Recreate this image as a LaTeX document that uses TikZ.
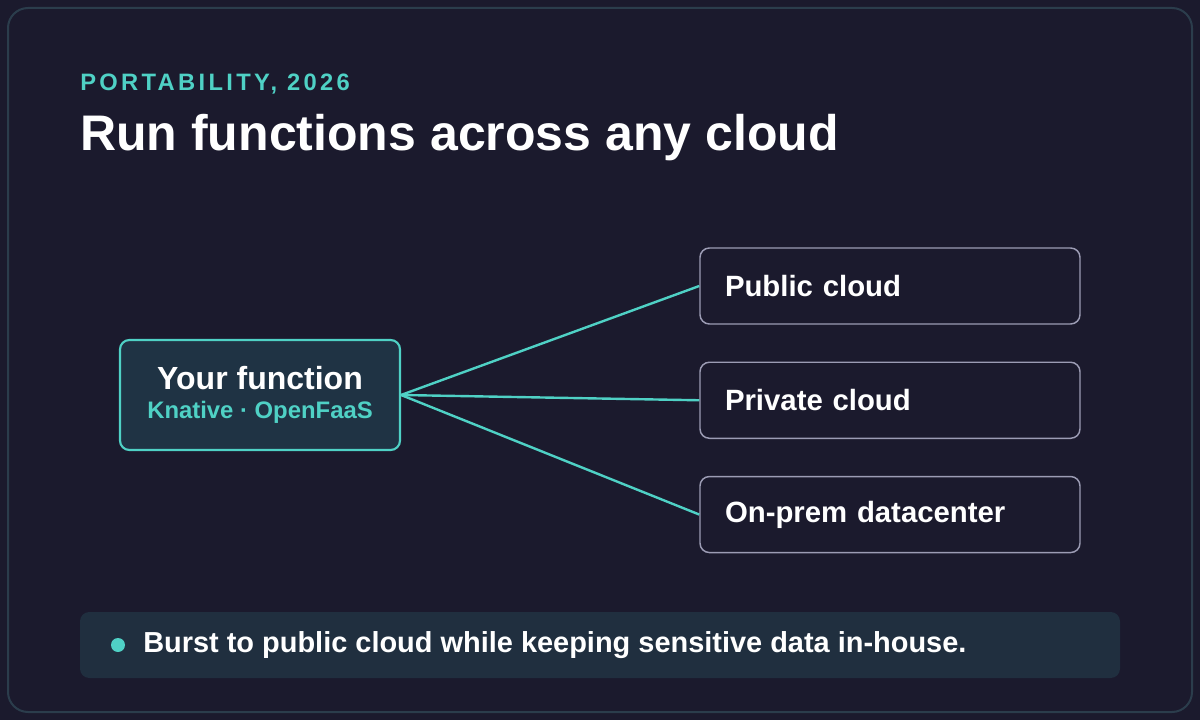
\documentclass[tikz,border=0pt]{standalone}
\usepackage{fontspec}
\setmainfont{Liberation Sans}
\newfontfamily\spacedfont[LetterSpace=14]{Liberation Sans}
\usetikzlibrary{positioning}
\definecolor{pagebg}{HTML}{1B1A2D}
\definecolor{framecol}{HTML}{2B3D4C}
\definecolor{teal}{HTML}{4FD1C5}
\definecolor{srcfill}{HTML}{1F3344}
\definecolor{tgtline}{HTML}{9C9CB4}
\definecolor{notefill}{HTML}{202F3F}
\tikzset{
  frame/.style={draw=framecol, line width=1.5pt, fill=pagebg, rounded corners=15pt},
  source/.style={rectangle, draw=teal, line width=1.6pt, fill=srcfill, rounded corners=7pt,
    minimum width=210pt, minimum height=82.5pt, inner sep=0pt, align=center},
  target/.style={rectangle, draw=tgtline, line width=1.1pt, fill=pagebg, rounded corners=7pt,
    minimum width=285pt, minimum height=57pt, inner sep=0pt, text width=247.5pt, align=left,
    font=\bfseries\fontsize{22}{26}\selectfont, text=white},
  link/.style={draw=teal, line width=1.8pt},
  note/.style={rectangle, fill=notefill, rounded corners=7pt, minimum width=780pt,
    minimum height=49.5pt, inner sep=0pt},
}

\begin{document}
\begin{tikzpicture}[x=0.75pt, y=-0.75pt]
  \fill[pagebg] (0,0) rectangle (1200,720);
  \useasboundingbox (0,0) rectangle (1200,720);
  \path[frame] (8,8) rectangle (1192,712);

  \node[anchor=base west, inner sep=0pt, text=teal, font=\spacedfont\bfseries\fontsize{17.8}{20}\selectfont] (kicker) at (80,91) {PORTABILITY, 2026};
  \node[anchor=base west, inner sep=0pt, text=white, font=\bfseries\fontsize{37.5}{42}\selectfont] (title) at (80,151) {Run functions across any cloud};

  \node[source] (fn) at (260,395) {%
    {\color{white}\bfseries\fontsize{24}{27}\selectfont Your function}\\[8pt]
    {\color{teal}\bfseries\fontsize{17.9}{20}\selectfont Knative · OpenFaaS}};

  \node[target] (public) at (890,286) {Public cloud};
  \node[target, below=27.6pt of public] (private) {Private cloud};
  \node[target, below=27.6pt of private] (onprem) {On-prem datacenter};

  \draw[link] (fn.east) -- (public.west);
  \draw[link] (fn.east) -- (private.west);
  \draw[link] (fn.east) -- (onprem.west);

  \node[note] (bar) at (600,645) {};
  \node[circle, fill=teal, minimum size=10.5pt, inner sep=0pt] (dot) at (118,645) {};
  \node[anchor=west, inner sep=0pt, text=white, font=\bfseries\fontsize{21.7}{25}\selectfont] (msg) at (143,645) {Burst to public cloud while keeping sensitive data in-house.};
\end{tikzpicture}
\end{document}
